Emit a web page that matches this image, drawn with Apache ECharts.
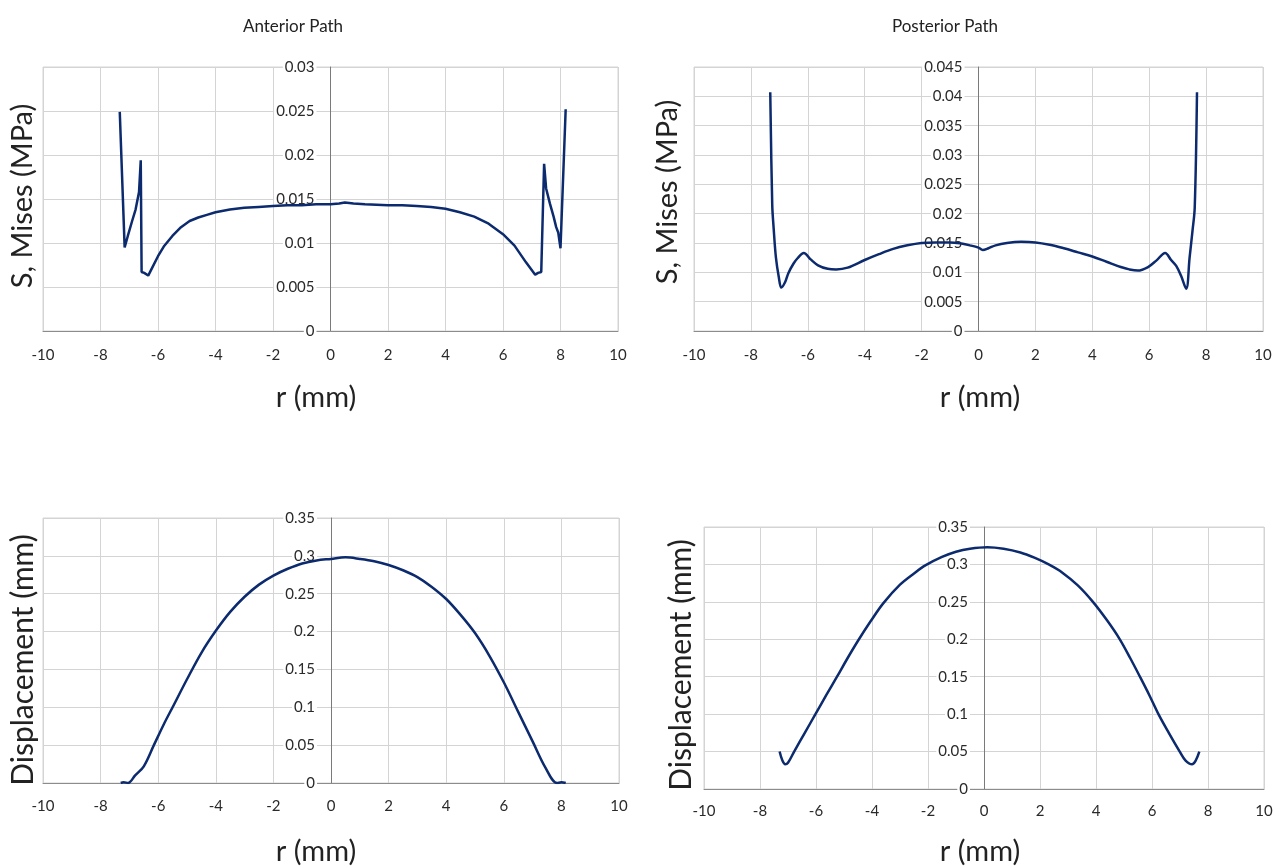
<!DOCTYPE html>
<html>
<head>
<meta charset="UTF-8">
<title>Anterior / Posterior Path</title>
<style>
body{margin:0;background:#fff;}
#picContainer{width:1280px;height:868px;}
</style>
</head>
<body>
<div id='picContainer'></div>
<script src="https://cdn.jsdelivr.net/npm/echarts@6/dist/echarts.min.js"></script>
<script>
// anterior path, von Mises stress
var antStressR = [-7.33,-7.16,-7.05,-6.9,-6.78,-6.66,-6.6,-6.57,-6.48,-6.34,-6.2,-6.0,-5.8,-5.5,-5.2,-4.9,-4.6,-4.3,-4.0,-3.5,-3.0,-2.5,-2.0,-1.5,-1.0,-0.5,0,0.3,0.5,0.8,1.2,2,2.5,3,3.5,4,4.5,5,5.5,6,6.4,6.8,7.12,7.22,7.33,7.43,7.5,7.63,7.76,7.85,7.92,8.0,8.18];
var antStressS = [0.0249,0.0095,0.0108,0.0125,0.0138,0.0158,0.0194,0.0067,0.0066,0.0063,0.0072,0.0085,0.0096,0.0108,0.0118,0.0125,0.0129,0.0132,0.0135,0.0138,0.014,0.0141,0.0142,0.0143,0.0143,0.0144,0.0144,0.0145,0.0146,0.0145,0.0144,0.0143,0.0143,0.0142,0.0141,0.0139,0.0135,0.013,0.0122,0.011,0.0097,0.0078,0.0064,0.0066,0.0067,0.019,0.0162,0.0145,0.013,0.0118,0.0112,0.0094,0.0252];
// posterior path, von Mises stress
var postStressR = [-7.32,-7.25,-7.2,-7.12,-7.02,-6.93,-6.8,-6.68,-6.5,-6.36,-6.14,-5.9,-5.64,-5.3,-5.0,-4.6,-4.0,-3.5,-3.0,-2.5,-2.0,-1.5,-1.0,-0.6,-0.3,0,0.15,0.35,0.6,1.0,1.5,2.0,2.5,3.0,3.5,4.0,4.5,5.0,5.3,5.6,5.96,6.25,6.56,6.77,6.95,7.12,7.3,7.42,7.52,7.6,7.68];
var postStressS = [0.0407,0.0215,0.0175,0.0125,0.0092,0.0074,0.0083,0.0099,0.0115,0.0124,0.0133,0.0122,0.0112,0.0106,0.0105,0.0108,0.0121,0.0131,0.014,0.0146,0.015,0.0151,0.0151,0.0149,0.0146,0.0142,0.0138,0.0141,0.0146,0.015,0.0152,0.0151,0.0147,0.0141,0.0134,0.0127,0.0118,0.0109,0.0105,0.0103,0.0109,0.012,0.0133,0.0121,0.0111,0.0094,0.0072,0.0125,0.017,0.021,0.0407];
// anterior path, displacement
var antDispR = [-7.3,-7.2,-7.05,-6.8,-6.5,-6.15,-5.8,-5.5,-5,-4.5,-4,-3.5,-3,-2.5,-2,-1.5,-1,-0.5,0,0.5,1,1.5,2,2.5,3,3.5,4,4.5,5,5.5,6,6.5,7,7.45,7.85,8.0,8.15];
var antDispD = [0,0.001,0,0.01,0.022,0.05,0.078,0.1,0.137,0.172,0.201,0.226,0.246,0.262,0.274,0.283,0.29,0.294,0.296,0.298,0.296,0.293,0.288,0.281,0.272,0.259,0.243,0.222,0.198,0.168,0.133,0.094,0.055,0.02,0,0.001,0];
// posterior path, displacement
var postDispR = [-7.3,-7.2,-7.1,-7.0,-6.78,-6.4,-6.02,-5.64,-5.25,-4.9,-4.5,-4.05,-3.6,-3.0,-2.5,-2.08,-1.5,-1.0,-0.5,0.12,0.7,1.3,1.8,2.31,2.8,3.35,3.89,4.4,4.85,5.22,5.57,5.91,6.23,6.6,6.99,7.2,7.43,7.56,7.69];
var postDispD = [0.05,0.038,0.033,0.035,0.05,0.075,0.1,0.125,0.15,0.173,0.198,0.224,0.248,0.273,0.288,0.299,0.31,0.317,0.321,0.323,0.321,0.316,0.309,0.3,0.289,0.272,0.25,0.225,0.2,0.175,0.15,0.125,0.1,0.075,0.05,0.038,0.033,0.038,0.05];

var yMax = [0.03, 0.045, 0.35, 0.35];
var yStep = [0.005, 0.005, 0.05, 0.05];

main();
function main(){
    var myChart = echarts.init(document.getElementById('picContainer'));
    myChart.setOption(buildOption());
}
function zip(a, b){
    var out = [];
    for (var i = 0; i < a.length; i++) out.push([a[i], b[i]]);
    return out;
}
function buildOption(){
    var labelFont = 'Lato, "Open Sans", sans-serif';
    var nameFont = 'Lato, "Open Sans", sans-serif';
    var grids = [
        {left: 43, top: 67, width: 575, height: 264},
        {left: 694, top: 67, width: 569, height: 264},
        {left: 43, top: 518, width: 576, height: 265},
        {left: 704, top: 527, width: 560, height: 262}
    ];
    var labelMargin = [17, 17, 16, 15];
    var xAxes = [], yAxes = [], series = [];
    var sets = [zip(antStressR, antStressS), zip(postStressR, postStressS),
                zip(antDispR, antDispD), zip(postDispR, postDispD)];
    for (var i = 0; i < 4; i++) {
        grids[i].show = true;
        grids[i].borderColor = '#d4d4d4';
        grids[i].borderWidth = 1;
        xAxes.push({
            type: 'value', gridIndex: i, min: -10, max: 10, interval: 2,
            axisLine: {lineStyle: {color: '#8c8c8c'}},
            axisTick: {show: false},
            axisLabel: {color: '#2a2a2a', fontSize: 15, fontFamily: labelFont, margin: labelMargin[i]},
            splitLine: {lineStyle: {color: '#d4d4d4'}}
        });
        // x range is symmetric, so r = 0 sits in the middle of the grid
        yAxes.push({
            type: 'value', gridIndex: i, min: 0, max: yMax[i], interval: yStep[i],
            position: 'left', offset: -grids[i].width / 2,
            axisLine: {show: true, onZero: false, lineStyle: {color: '#7a7a7a'}},
            axisTick: {show: false},
            axisLabel: {color: '#2a2a2a', fontSize: 15, fontFamily: labelFont, margin: 14,
                        backgroundColor: '#fff', padding: [0, 2]},
            splitLine: {lineStyle: {color: '#d4d4d4'}}
        });
        series.push({
            type: 'line', xAxisIndex: i, yAxisIndex: i,
            data: sets[i], symbol: 'none',
            smooth: i === 0 ? false : 0.35,
            lineStyle: {color: '#0c2a6e', width: 2.5},
            z: 5
        });
    }
    function txt(x, y, s, size, rot){
        return {
            type: 'text', x: x, y: y, rotation: rot || 0,
            style: {text: s, fill: '#222', font: size + 'px ' + nameFont,
                    textAlign: 'center', textVerticalAlign: 'middle'}
        };
    }
    return {
        animation: false,
        backgroundColor: '#fff',
        grid: grids,
        xAxis: xAxes,
        yAxis: yAxes,
        series: series,
        graphic: [
            txt(293, 27, 'Anterior Path', 17),
            txt(945, 27, 'Posterior Path', 17),
            txt(316, 398, 'r (mm)', 29),
            txt(980, 398, 'r (mm)', 29),
            txt(316, 852, 'r (mm)', 29),
            txt(980, 852, 'r (mm)', 29),
            txt(23, 196, 'S, Mises (MPa)', 29, Math.PI / 2),
            txt(668, 192, 'S, Mises (MPa)', 29, Math.PI / 2),
            txt(23, 660, 'Displacement (mm)', 30, Math.PI / 2),
            txt(681, 665, 'Displacement (mm)', 30, Math.PI / 2)
        ]
    };
}
</script>
</body>
</html>
